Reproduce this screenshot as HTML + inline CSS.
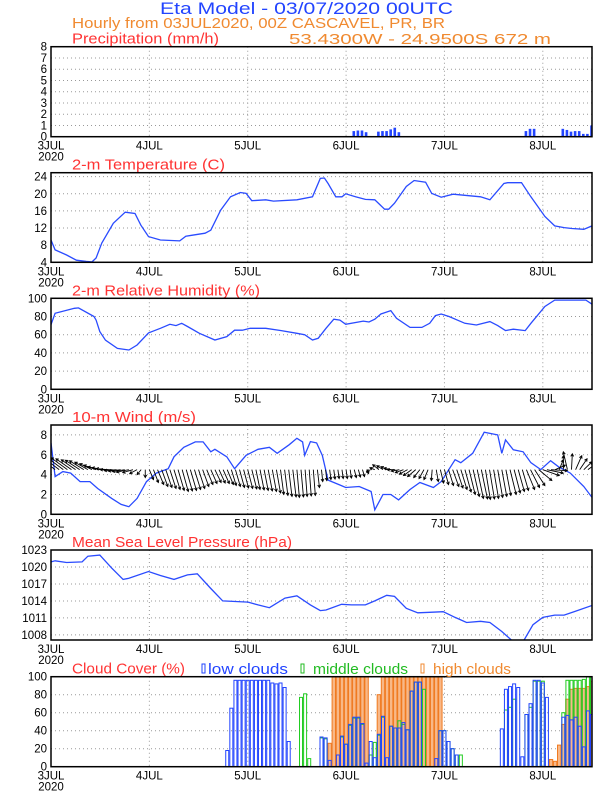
<!DOCTYPE html>
<html><head><meta charset="utf-8"><style>
html,body{margin:0;padding:0;background:#fff;}
svg{display:block;font-family:"Liberation Sans",sans-serif;}
</style></head><body>
<svg id="chart" width="612" height="792" viewBox="0 0 612 792" xmlns="http://www.w3.org/2000/svg">
<rect width="612" height="792" fill="#fff"/>
<text x="160" y="14" font-size="17" fill="#2244ff" textLength="293" lengthAdjust="spacingAndGlyphs">Eta Model - 03/07/2020 00UTC</text>
<text x="72" y="28" font-size="15" fill="#f08a30" textLength="373" lengthAdjust="spacingAndGlyphs">Hourly from 03JUL2020, 00Z  CASCAVEL, PR, BR</text>
<text x="289" y="44" font-size="15" fill="#f08a30" textLength="262" lengthAdjust="spacingAndGlyphs">53.4300W - 24.9500S    672  m</text>
<g id="plots"></g>
</svg>
<script>
// ---- data ----
const dayLabels = ["3JUL","4JUL","5JUL","6JUL","7JUL","8JUL"];
const precipHours = [66,67,68,69,70,74,75,76,77,80,81,82,83,84,85,95,96,97,116,117,118,125,126,127,128,129,130,131,132];
const precipValues = [0.05,0.05,0.05,0.05,0.05,0.5,0.55,0.55,0.4,0.45,0.5,0.5,0.65,0.8,0.4,0.05,0.05,0.05,0.5,0.7,0.7,0.7,0.6,0.45,0.5,0.5,0.25,0.25,1.0];
const tempHours = [0,1,3.8,6.2,8.6,10,11,12.4,15.2,18.1,20.5,21.9,23.8,26.7,31.4,32.9,34.3,37.6,39,41.4,43.8,46.2,47.6,49,52.4,54.3,60,63.8,65.7,66.7,67.6,69.5,71,71.9,74.3,76.7,79,81.4,82.4,83.8,86.7,88.6,91.4,92.9,95.2,98.1,104.8,107.1,110.5,111.4,114.8,117.1,120.5,122.9,125.2,127.1,130,132];
const tempValues = [9.2,6.9,5.7,4.5,4.2,4.1,5,8.5,13.1,15.7,15.4,12.7,10,9.2,9,10.1,10.3,10.8,11.5,16.2,19.3,20.3,20.1,18.4,18.6,18.3,18.6,19.3,23.6,23.7,22.4,19.3,19.3,20,19.3,18.7,18.6,16.4,16.4,17.8,21.7,23.1,22.7,20.1,19.2,19.9,19.3,18.6,22.4,22.6,22.6,19.3,14.7,12.5,12.1,11.9,11.7,12.5];
const rhHours = [0,1,5.7,6.7,10.5,11,11.9,13.3,16.2,19,21,23.8,26.7,29,30.5,31.9,33.3,36.2,40,42.9,44.8,46.7,48.6,52.4,56.2,60,61.9,63.8,65.2,67.1,69,70.5,71.9,76.2,77.6,79,80.5,82.9,84.3,87.6,90.5,92.4,93.8,95.2,97.1,101,103.8,107.1,109,110.9,112.8,115.7,117.1,120.5,122.9,130.5,132];
const rhValues = [71,83.5,89,89.4,80,76,63.4,54,45,43.2,48.7,62,67,71.4,70,72.5,69,61.5,54.2,57.9,65,65,67,67,64.5,61.5,60,54.2,56,67,77,76,71.4,75,74,77,82.8,86.5,78,68,68,72.5,81,82.8,80,72.5,70.7,74.4,70,64.5,66,64.5,72.5,91,98,98,93.5];
const windHours = [0,1,2.9,4.8,7.1,9.5,11.4,14.8,17.1,19,21,23.3,25.7,28.6,30,32.4,35.2,37.1,39,40,42.9,44.8,47.6,50.5,53.3,55.2,58.1,60,61.4,61.9,63.3,64.8,66.2,67.6,70.5,71.9,75.2,78.1,79,81,82.9,84.8,87.6,90,93.3,95.2,98.6,100,102.9,105.7,109,110,110.9,112.8,115.2,117.1,119.5,121.9,123.8,126.7,130,132];
const windSpeed = [7.2,3.8,4.3,4.15,3.3,3.3,2.6,1.6,1.0,0.77,1.6,3.3,4.15,4.6,5.8,6.75,7.3,7.3,6.3,6.55,5.8,4.6,5.95,6.55,6.75,6.15,7,7.66,7.3,5.95,7.33,7.2,5.95,3.45,2.95,2.7,2.8,2.3,0.45,2.0,2.0,1.45,2.5,3.2,2.7,3.3,5.5,5.2,6.15,8.27,8.0,6.15,7.5,6.5,6.3,5.2,4.5,5.4,4.8,4.15,2.8,1.7];
const vecHours = [0,1,2,3,4,5,6,7,8,9,10,11,12,13,14,15,16,17,18,19,20,21,22,23,24,25,26,27,28,29,30,31,32,33,34,35,36,37,38,39,40,41,42,43,44,45,46,47,48,49,50,51,52,53,54,55,56,57,58,59,60,61,62,63,64,65,66,67,68,69,70,71,72,73,74,75,76,77,78,79,80,81,82,83,84,85,86,87,88,89,90,91,92,93,94,95,96,97,98,99,100,101,102,103,104,105,106,107,108,109,110,111,112,113,114,115,116,117,118,119,120,121,122,123,124,125,126,127,128,129,130,131,132];
const vecV = [1.6,1.5,1.4,1.3,1.2,1.1,1.0,0.95,0.9,0.75,0.6,0.45,0.3,0.2,0.1,0,-0.1,-0.15,-0.2,-0.25,-0.3,-0.4,-0.5,-0.8,-1.0,-1.3,-1.5,-1.7,-1.8,-1.9,-2.0,-2.1,-2.2,-2.15,-2.1,-2.0,-1.9,-1.7,-1.5,-1.4,-1.3,-1.35,-1.4,-1.5,-1.6,-1.7,-1.8,-1.85,-1.9,-1.95,-2.0,-2.05,-2.1,-2.15,-2.2,-2.35,-2.5,-2.6,-2.7,-2.75,-2.8,-2.75,-2.7,-2.65,-2.6,-1.8,-1.2,-1.1,-1.0,-0.95,-0.9,-0.9,-0.9,-0.85,-0.8,-0.75,-0.7,-0.4,-0.2,0.2,0.5,0.4,0.3,0.15,0,-0.15,-0.3,-0.45,-0.6,-0.7,-0.8,-0.9,-1.0,-1.1,-1.2,-1.35,-1.5,-1.6,-1.7,-1.85,-2.0,-2.25,-2.5,-2.7,-2.9,-2.95,-3.0,-2.95,-2.9,-2.8,-2.7,-2.6,-2.5,-2.35,-2.2,-2.1,-2.0,-1.8,-1.6,-1.1,-0.6,-0.35,-0.1,0.45,1.0,1.4,1.8,1.6,1.4,1.1,0.8,0.6,0.4];
const vecU = [-5,-4.8,-4.5,-4.2,-4,-3.8,-3.5,-3.5,-3.5,-3.2,-3,-3,-3,-3,-3,-3,-3,-3,-3,-3,-2.5,-1.8,-1,0,1,1.2,1.5,1.5,1.5,1.5,1.5,1.5,1.5,1.5,1.5,1.5,1.5,1.5,1.5,1.5,1.5,1.5,1.5,1.5,1.2,1.2,1.2,1.2,1.2,1.2,1,1,1,1,1,1,0.8,0.8,0.8,0.8,0.6,0.6,0.5,0.5,0.5,0.5,0.3,0.3,0.3,0.3,0.3,0.3,0.3,0.3,0.5,0.5,0.5,0.5,-1,-1.2,-1.5,-1.5,-1.5,-1.8,-2,-2,-2,-2,-2,-2,-1.5,-1.2,-1,-0.2,0.5,0.8,1,1.2,1.5,1.5,1.5,1.5,1.5,1.5,1.5,1.5,1.2,1.2,1.2,1.2,1.2,1.2,1.5,1.5,1.5,1.5,2,2.2,2.5,3.2,4,4,4,2.5,1,0,-1,0.2,1.5,1.8,2,2,2];
const mslpHours = [0,1,3.8,7.6,9,11.9,14.8,17.6,19,23.8,26.7,30,33.3,35.7,39,41.9,48.1,50.5,53.3,57.1,60,63.3,65.7,67.1,70.9,73.3,76.7,79,81.9,83.8,86.7,89.5,92.4,95.7,98.6,101.4,104.8,107.1,110,112.8,115.2,117.6,120,122.9,125.2,127.6,132];
const mslpValues = [1020.9,1021.1,1020.8,1020.9,1021.9,1022.1,1019.8,1017.8,1018,1019.2,1018.5,1017.8,1018.6,1018.8,1016.2,1014,1013.8,1013.3,1012.8,1014.5,1014.9,1013.3,1012.3,1012.4,1013.4,1013.3,1013.3,1014,1015,1014.8,1012.7,1011.9,1012,1012.1,1011.1,1010.2,1010.4,1010.2,1008.6,1006.8,1006.8,1009.8,1011.1,1011.5,1011.5,1012.1,1013.2];
const highHours = [68,69,70,71,72,73,74,75,76,77,80,81,82,83,84,85,86,87,88,89,90,91,92,93,94,95,122,123,124,125,126,127,128,129,130,131,132];
const highValues = [26,100,100,100,100,100,100,100,100,100,80,100,100,100,100,100,100,100,100,100,100,100,100,100,100,100,8,6,24,47,75,86,87,87,87,89,95];
const midHours = [61,62,63,66,67,71,72,73,74,75,76,78,79,80,81,83,84,85,86,87,88,89,90,91,95,96,97,98,99,100,111,112,113,116,117,118,119,120,125,126,127,128,129,130,131,132];
const midValues = [77,81,9,32,31,33,25,46,54,54,47,13,27,35,55,45,43,51,47,41,84,94,94,86,40,40,28,20,13,13,63,66,75,58,66,95,95,95,60,96,96,96,96,97,100,100];
const lowHours = [43,44,45,46,47,48,49,50,51,52,53,54,55,56,57,58,66,67,68,70,71,72,73,74,75,76,77,78,79,80,81,82,83,84,85,86,87,88,89,90,94,95,96,97,98,99,110,111,112,113,114,115,116,117,118,119,120,121,125,126,127,128,129,130,131,132];
const lowValues = [18,65,96,96,96,96,96,96,96,96,96,93,92,93,88,28,33,32,7,13,34,25,47,55,55,48,4,28,10,36,56,10,45,43,43,49,41,84,94,94,9,40,40,28,20,13,42,86,89,92,88,11,58,70,96,96,93,77,55,57,52,55,45,22,62,58];

// ---- layout ----
const NS = "http://www.w3.org/2000/svg";
const X0 = 51, X1 = 592, NH = 132;
function X(h){ return X0 + h*(X1-X0)/NH; }
const root = document.getElementById('plots');
function mk(tag, attrs, parent){
  const e = document.createElementNS(NS, tag);
  for (const k in attrs) e.setAttribute(k, attrs[k]);
  (parent||root).appendChild(e);
  return e;
}
function yScale(p){ return v => p.bottom - (v - p.vmin)*(p.bottom - p.top)/(p.vmax - p.vmin); }

function panel(p){
  const g = mk('g', {});
  
  
  const Y = yScale(p);
  p.ticks.forEach(t => {
    const y = Y(t);
    const gl = mk('line', {x1:X0, x2:X1, y1:y, y2:y, stroke:'#999', 'stroke-width':1, 'stroke-dasharray':'1,3'}, g);
    
    
    const tl = mk('text', {x:X0-4, y:y+4, 'font-size':11.5, 'text-anchor':'end', fill:'#000'}, g);
    tl.textContent = t;
    
    
  });
  for (let d=1; d<dayLabels.length; d++){
    const x = X(d*24);
    const vl = mk('line', {x1:x, x2:x, y1:p.top, y2:p.bottom, stroke:'#999', 'stroke-width':1, 'stroke-dasharray':'1,3'}, g);
    
    
  }
  dayLabels.forEach((lab, d) => {
    const t = mk('text', {x:X(d*24), y:p.bottom+13, 'font-size':11.5, 'text-anchor':'middle', fill:'#000'}, g);
    t.textContent = lab;
    
    
  });
  const yr = mk('text', {x:X0, y:p.bottom+24, 'font-size':11.5, 'text-anchor':'middle', fill:'#000'}, g);
  yr.textContent = '2020';
  
  
  const tt = mk('text', {x:72, y:p.top-3, 'font-size':15, fill:'#ff3333', textLength:p.titleW, lengthAdjust:'spacingAndGlyphs'}, g);
  tt.textContent = p.title;
  
  
  const clip = mk('clipPath', {id:'clip-'+p.name}, g);
  mk('rect', {x:X0, y:p.top, width:X1-X0, height:p.bottom-p.top}, clip);
  const body = mk('g', {'clip-path':'url(#clip-'+p.name+')'}, g);
  p.draw(body, Y);
  const fr = mk('rect', {x:X0, y:p.top, width:X1-X0, height:p.bottom-p.top, fill:'none', stroke:'#000', 'stroke-width':1.5}, g);
  
  
  return g;
}
function line(body, Y, hs, vs, name){
  const pts = hs.map((h,i) => X(h).toFixed(1)+','+Y(vs[i]).toFixed(1)).join(' ');
  const pl = mk('polyline', {points:pts, fill:'none', stroke:'#2a4bff', 'stroke-width':1.3}, body);
  
  
}
function bars(body, Y, hs, vs, name, stroke, fill, w){
  hs.forEach((h,i) => {
    const y = Y(vs[i]), b = Y(0);
    const r = mk('rect', {x:X(h)-w/2, y:y, width:w, height:Math.max(0,b-y), fill:fill, stroke:stroke, 'stroke-width':1}, body);
    
    
  });
}

panel({name:'precipitation', title:'Precipitation (mm/h)', titleW:147, top:46.7, bottom:136.7, vmin:0, vmax:8, ticks:[0,1,2,3,4,5,6,7,8],
  draw:(b,Y)=>{ precipHours.forEach((h,i)=>{ const y=Y(precipValues[i]);
    const r = mk('rect',{x:X(h)-1.8,y:y,width:2.6,height:Y(0)-y,fill:'#2244ff'},b);
    
     }); }});
panel({name:'temperature', title:'2-m Temperature (C)', titleW:153, top:172.7, bottom:262.3, vmin:4, vmax:24.93, ticks:[4,8,12,16,20,24],
  draw:(b,Y)=>line(b,Y,tempHours,tempValues,'temperature-line')});
panel({name:'humidity', title:'2-m Relative Humidity (%)', titleW:188, top:298.3, bottom:389.3, vmin:0, vmax:100, ticks:[0,20,40,60,80,100],
  draw:(b,Y)=>line(b,Y,rhHours,rhValues,'humidity-line')});
panel({name:'wind', title:'10-m Wind (m/s)', titleW:124, top:425, bottom:514.3, vmin:0, vmax:9, ticks:[0,2,4,6,8],
  draw:(b,Y)=>{
    line(b,Y,windHours,windSpeed,'wind-speed-line');
    vecHours.forEach((h,i)=>{
      const x1=X(h), y1=Y(4.5), x2=X(h+vecU[i]), y2=Y(4.5+vecV[i]);
      const a=Math.atan2(y2-y1,x2-x1), L=3;
      const p = mk('path',{d:`M${x1},${y1}L${x2},${y2}M${x2-L*Math.cos(a-0.5)},${y2-L*Math.sin(a-0.5)}L${x2},${y2}L${x2-L*Math.cos(a+0.5)},${y2-L*Math.sin(a+0.5)}`,stroke:'#000','stroke-width':0.9,fill:'none'},b);
      
      
    });
  }});
panel({name:'pressure', title:'Mean Sea Level Pressure (hPa)', titleW:220, top:550, bottom:640, vmin:1007.1, vmax:1023, ticks:[1008,1011,1014,1017,1020,1023],
  draw:(b,Y)=>line(b,Y,mslpHours,mslpValues,'pressure-line')});
panel({name:'cloud', title:'Cloud Cover (%)', titleW:113, top:676.7, bottom:766.7, vmin:0, vmax:100, ticks:[0,20,40,60,80,100],
  draw:(b,Y)=>{
    bars(b,Y,highHours,highValues,'high-cloud-bar','#f07a20','#f8b888',3.4);
    bars(b,Y,midHours,midValues,'middle-cloud-bar','#22cc22','none',3.0);
    bars(b,Y,lowHours,lowValues,'low-cloud-bar','#2244ff','none',3.0);
    const base = mk('line',{x1:X0,x2:X1,y1:Y(0),y2:Y(0),stroke:'#2244ff','stroke-width':1.5},b);
    
    
  }});
const leg = [['low clouds','#2244ff',202,205,80],['middle clouds','#22bb22',301,310,95],['high clouds','#f08a30',421,430,78]];
leg.forEach(l=>{
  const r = mk('rect',{x:l[2],y:664,width:3,height:9,fill:'none',stroke:l[1],'stroke-width':1});
  
  
  const t = mk('text',{x:l[3]+3,y:674,'font-size':15,fill:l[1],textLength:l[4],lengthAdjust:'spacingAndGlyphs'});
  t.textContent = l[0];
  
  
});
</script>
</body></html>
